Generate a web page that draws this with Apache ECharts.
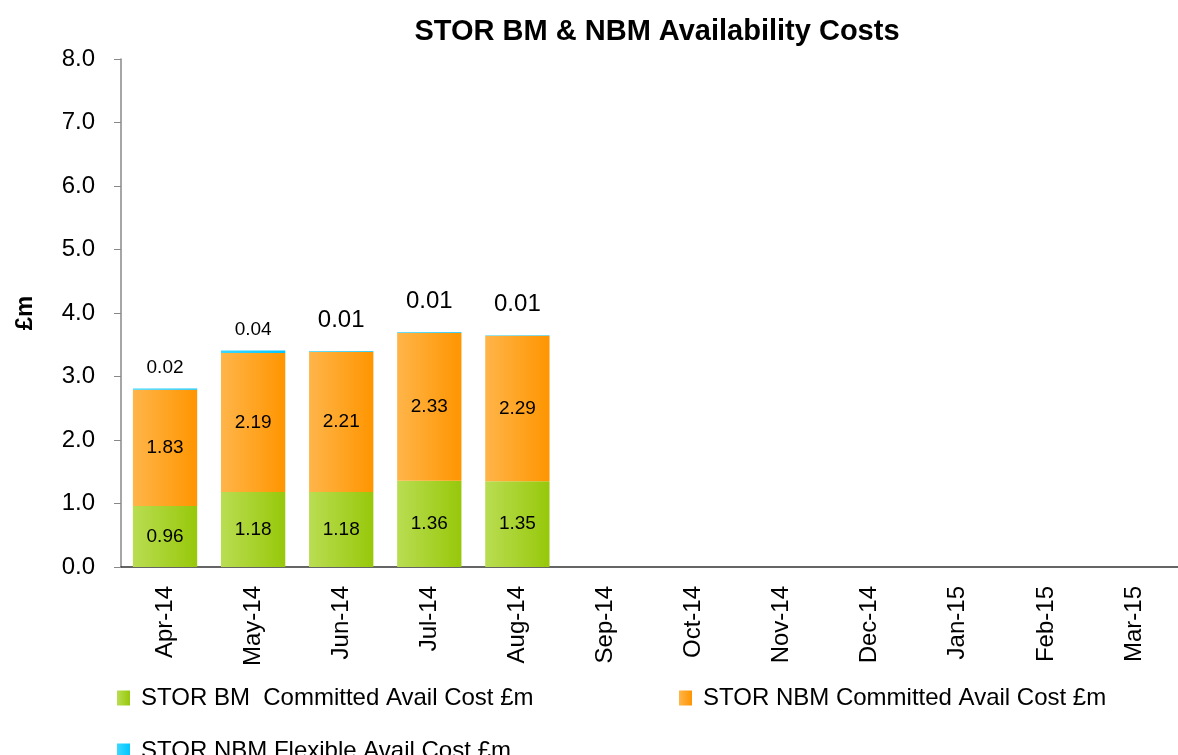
<!DOCTYPE html>
<html>
<head>
<meta charset="utf-8">
<title>STOR BM & NBM Availability Costs</title>
<script src="https://cdn.jsdelivr.net/npm/echarts@6/dist/echarts.min.js"></script>
<style>
	html, body { margin: 0; padding: 0; background: #fff; }
	#main { width: 1178px; height: 755px; }
</style>
</head>
<body>
<div id="main"></div>
<script>
	// 月份
	var months = ['Apr-14', 'May-14', 'Jun-14', 'Jul-14', 'Aug-14', 'Sep-14', 'Oct-14', 'Nov-14', 'Dec-14', 'Jan-15', 'Feb-15', 'Mar-15'];
	// 各系列数值（£m）
	var bmCommitted = [0.96, 1.18, 1.18, 1.36, 1.35];
	var nbmCommitted = [1.83, 2.19, 2.21, 2.33, 2.29];
	var nbmFlexible = [0.02, 0.04, 0.01, 0.01, 0.01];
	// y轴刻度
	var yMin = 0, yMax = 8, yStep = 1;

	var seriesNames = ['STOR BM  Committed Avail Cost £m', 'STOR NBM Committed Avail Cost £m', 'STOR NBM Flexible Avail Cost £m'];
	var font = "'Liberation Sans', Arial, sans-serif";

	function grad(a, b) {
		return new echarts.graphic.LinearGradient(0, 0, 1, 0, [
			{ offset: 0, color: a },
			{ offset: 1, color: b }
		]);
	}
	var colors = [grad('#b9dd52', '#97c80a'), grad('#ffb54a', '#ff9500'), grad('#3ad8ff', '#00c6ff')];

	var myChart = echarts.init(document.getElementById('main'));

	// 顶部标签：前两个小字，后面大字
	var flexData = nbmFlexible.map(function(v, i) {
		return {
			value: v,
			label: i < 2 ? { fontSize: 19, distance: 11 } : { fontSize: 24, distance: 19 }
		};
	});

	var inLabel = {
		show: true,
		position: 'inside',
		color: '#000',
		fontFamily: font,
		fontSize: 19
	};

	function legend(name, left, top) {
		return {
			data: [name],
			left: left,
			top: top,
			itemWidth: 13,
			itemHeight: 15,
			icon: 'rect',
			textStyle: { fontFamily: font, fontSize: 24, color: '#000', padding: [0, 0, 0, 6] }
		};
	}

	var option = {
		animation: false,
		color: colors,
		title: {
			text: 'STOR BM & NBM Availability Costs',
			left: 652,
			top: 12,
			textAlign: 'center',
			textStyle: { fontFamily: font, fontSize: 29, fontWeight: 'bold', color: '#000' }
		},
		legend: [
			legend(seriesNames[0], 112, 681),
			legend(seriesNames[1], 674, 681),
			legend(seriesNames[2], 112, 734)
		],
		grid: { left: 121, right: -11, top: 59, bottom: 188 },
		xAxis: {
			type: 'category',
			data: months,
			axisLine: { lineStyle: { color: '#333', width: 1.5 } },
			axisTick: { length: 6, lineStyle: { color: '#555' } },
			axisLabel: { rotate: 90, margin: 19, fontFamily: font, fontSize: 24, color: '#000', interval: 0 }
		},
		yAxis: {
			type: 'value',
			min: yMin,
			max: yMax,
			interval: yStep,
			name: '£m',
			nameLocation: 'middle',
			nameRotate: 90,
			nameGap: 84,
			nameTextStyle: { fontFamily: font, fontSize: 24, fontWeight: 'bold', color: '#000' },
			splitLine: { show: false },
			axisLine: { show: true, lineStyle: { color: '#888', width: 1.5 } },
			axisTick: { show: true, length: 7, lineStyle: { color: '#888' } },
			axisLabel: {
				margin: 26,
				fontFamily: font,
				fontSize: 24,
				color: '#000',
				formatter: function(v) { return v.toFixed(1); }
			}
		},
		series: [{
				name: seriesNames[0],
				type: 'bar',
				stack: 'cost',
				barCategoryGap: '27%',
				data: bmCommitted,
				label: inLabel
			},
			{
				name: seriesNames[1],
				type: 'bar',
				stack: 'cost',
				data: nbmCommitted,
				label: inLabel
			},
			{
				name: seriesNames[2],
				type: 'bar',
				stack: 'cost',
				data: flexData,
				label: {
					show: true,
					position: 'top',
					color: '#000',
					fontFamily: font
				}
			}
		]
	};

	myChart.setOption(option);
</script>
</body>
</html>
